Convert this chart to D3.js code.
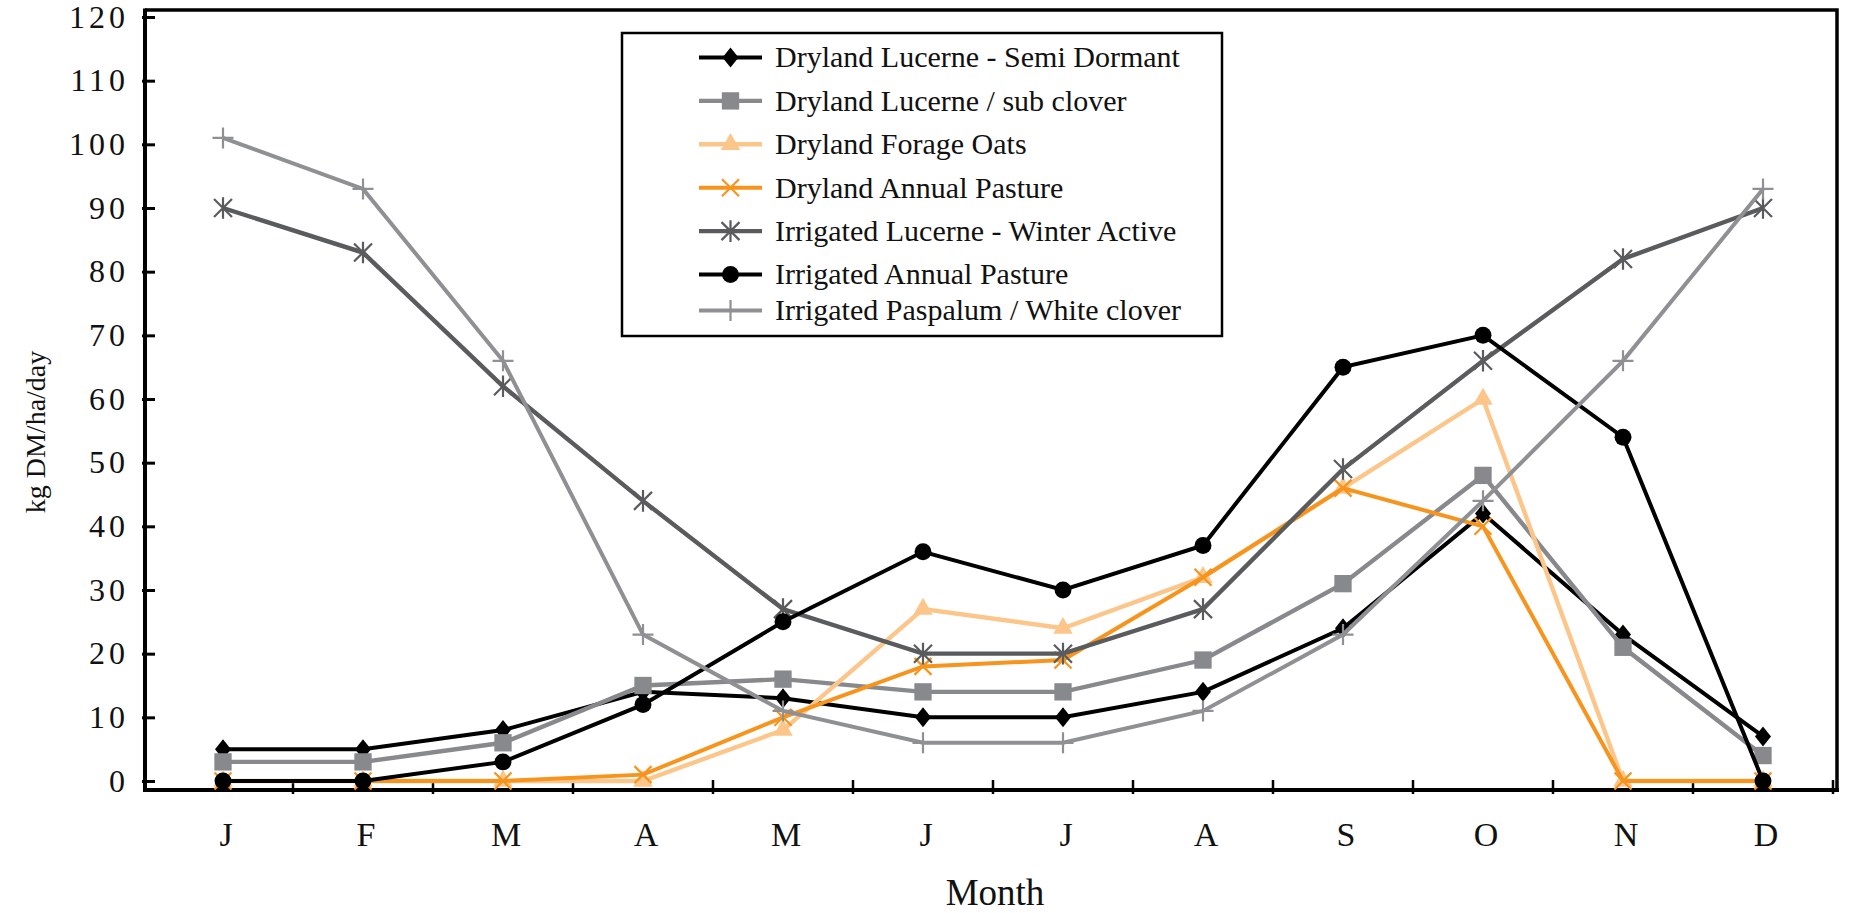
<!DOCTYPE html>
<html>
<head>
<meta charset="utf-8">
<script src="https://cdn.jsdelivr.net/npm/d3@7"></script>
<style>
  html, body { margin: 0; padding: 0; background: #fff; }
  svg { display: block; font-family: "Liberation Serif", "DejaVu Serif", serif; }
</style>
</head>
<body>
<div id="chart"></div>
<script>
// month labels along the bottom
const months = ["J", "F", "M", "A", "M", "J", "J", "A", "S", "O", "N", "D"];
const yTicks = [0, 10, 20, 30, 40, 50, 60, 70, 80, 90, 100, 110, 120];

// kg DM/ha/day per month
const drylandLucerneSemiDormant = [5, 5, 8, 14, 13, 10, 10, 14, 24, 42, 23, 7];
const drylandLucerneSubClover = [3, 3, 6, 15, 16, 14, 14, 19, 31, 48, 21, 4];
const drylandForageOats = [0, 0, 0, 0, 8, 27, 24, 32, 46, 60, 0, 0];
const drylandAnnualPasture = [0, 0, 0, 1, 10, 18, 19, 32, 46, 40, 0, 0];
const irrigatedLucerneWinterActive = [90, 83, 62, 44, 27, 20, 20, 27, 49, 66, 82, 90];
const irrigatedAnnualPasture = [0, 0, 3, 12, 25, 36, 30, 37, 65, 70, 54, 0];
const irrigatedPaspalumWhiteClover = [101, 93, 66, 23, 11, 6, 6, 11, 23, 44, 66, 93];

const seriesNames = [
  "Dryland Lucerne - Semi Dormant",
  "Dryland Lucerne / sub clover",
  "Dryland Forage Oats",
  "Dryland Annual Pasture",
  "Irrigated Lucerne - Winter Active",
  "Irrigated Annual Pasture",
  "Irrigated Paspalum / White clover"
];

// styling per series (kept apart from the values)
const series = [
  { name: seriesNames[0], values: drylandLucerneSemiDormant, color: "#000000", width: 4, marker: "diamond" },
  { name: seriesNames[1], values: drylandLucerneSubClover, color: "#88898d", width: 4.4, marker: "square" },
  { name: seriesNames[2], values: drylandForageOats, color: "#fcc58a", width: 4.4, marker: "triangle" },
  { name: seriesNames[3], values: drylandAnnualPasture, color: "#f7941d", width: 4, marker: "x" },
  { name: seriesNames[4], values: irrigatedLucerneWinterActive, color: "#5a5b5d", width: 4.4, marker: "asterisk" },
  { name: seriesNames[5], values: irrigatedAnnualPasture, color: "#000000", width: 4, marker: "circle" },
  { name: seriesNames[6], values: irrigatedPaspalumWhiteClover, color: "#8f9093", width: 4, marker: "plus" }
];

const W = 1850, H = 913;
const frame = { left: 145, right: 1837, top: 10, bottom: 790 };

const svg = d3.select("#chart").append("svg")
  .attr("width", W)
  .attr("height", H);

const x = d3.scaleBand()
  .domain(d3.range(months.length))
  .range([153, 1833])
  .padding(0);

const y = d3.scaleLinear()
  .domain([0, 120])
  .range([781, 17]);

const cx = i => x(i) + x.bandwidth() / 2;

// marker shapes
function markerPath(type) {
  const p = d3.path();
  if (type === "x") {
    const s = 8.5;
    p.moveTo(-s, -s); p.lineTo(s, s);
    p.moveTo(-s, s); p.lineTo(s, -s);
    return p.toString();
  }
  if (type === "asterisk") {
    const s = 9;
    p.moveTo(-s, -s); p.lineTo(s, s);
    p.moveTo(-s, s); p.lineTo(s, -s);
    p.moveTo(0, -s * 1.2); p.lineTo(0, s * 1.2);
    return p.toString();
  }
  if (type === "plus") {
    const s = 10.5;
    p.moveTo(-s, 0); p.lineTo(s, 0);
    p.moveTo(0, -s); p.lineTo(0, s);
    return p.toString();
  }
  if (type === "diamond") {
    p.moveTo(0, -10); p.lineTo(8, 0); p.lineTo(0, 10); p.lineTo(-8, 0); p.closePath();
    return p.toString();
  }
  if (type === "square") return d3.symbol(d3.symbolSquare, 300)();
  if (type === "triangle") return d3.symbol(d3.symbolTriangle, 165)();
  return d3.symbol(d3.symbolCircle, 225)();
}
const stroked = t => t === "x" || t === "asterisk" || t === "plus";

function drawMarker(g, s, px, py) {
  const m = g.append("path")
    .attr("d", markerPath(s.marker))
    .attr("transform", `translate(${px},${py})`);
  if (stroked(s.marker)) {
    m.attr("fill", "none").attr("stroke", s.color).attr("stroke-width", 2.2);
  } else {
    m.attr("fill", s.color).attr("stroke", "none");
  }
}

// frame (top + right)
svg.append("path")
  .attr("d", `M${frame.left},${frame.top}H${frame.right}V${frame.bottom}`)
  .attr("fill", "none")
  .attr("stroke", "#000")
  .attr("stroke-width", 3.5);

// y axis, ticks pointing inward
const yAxis = d3.axisLeft(y)
  .tickValues(yTicks)
  .tickSizeInner(-10)
  .tickSizeOuter(0)
  .tickPadding(16);
const gy = svg.append("g")
  .attr("transform", `translate(${frame.left},0)`)
  .call(yAxis);
gy.select(".domain").remove();
gy.selectAll(".tick line").attr("stroke", "#000").attr("stroke-width", 3).attr("x1", -3);
gy.selectAll(".tick text")
  .attr("font-family", "Liberation Serif")
  .attr("font-size", 32)
  .attr("letter-spacing", 4)
  .attr("fill", "#111");
svg.append("line")
  .attr("x1", frame.left).attr("x2", frame.left)
  .attr("y1", frame.top - 1.5).attr("y2", frame.bottom + 2)
  .attr("stroke", "#000").attr("stroke-width", 4);

// x axis: line below the zero line, tick marks between months
svg.append("line")
  .attr("x1", frame.left - 2).attr("x2", frame.right + 2)
  .attr("y1", frame.bottom).attr("y2", frame.bottom)
  .attr("stroke", "#000").attr("stroke-width", 4);
svg.append("g").selectAll("line")
  .data(d3.range(1, months.length + 1))
  .join("line")
  .attr("x1", i => x.range()[0] + i * x.bandwidth())
  .attr("x2", i => x.range()[0] + i * x.bandwidth())
  .attr("y1", frame.bottom - 10)
  .attr("y2", frame.bottom + 4)
  .attr("stroke", "#000")
  .attr("stroke-width", 2.5);
svg.append("g").selectAll("text")
  .data(months)
  .join("text")
  .attr("x", (d, i) => cx(i) + 3)
  .attr("y", 846)
  .attr("text-anchor", "middle")
  .attr("font-size", 34)
  .attr("fill", "#111")
  .text(d => d);

// axis titles
svg.append("text")
  .attr("x", 995).attr("y", 905)
  .attr("text-anchor", "middle")
  .attr("font-size", 37)
  .attr("fill", "#111")
  .text("Month");
svg.append("text")
  .attr("transform", "translate(45,432) rotate(-90)")
  .attr("text-anchor", "middle")
  .attr("font-size", 28)
  .attr("fill", "#111")
  .text("kg DM/ha/day");

// series lines and markers
const line = d3.line()
  .x((d, i) => cx(i))
  .y(d => y(d));

series.forEach(s => {
  const g = svg.append("g");
  g.append("path")
    .datum(s.values)
    .attr("d", line)
    .attr("fill", "none")
    .attr("stroke", s.color)
    .attr("stroke-width", s.width)
    .attr("stroke-linejoin", "miter");
  s.values.forEach((v, i) => drawMarker(g, s, cx(i), y(v)));
});

// legend
const legend = svg.append("g");
legend.append("rect")
  .attr("x", 622).attr("y", 33)
  .attr("width", 600).attr("height", 303)
  .attr("fill", "#fff")
  .attr("stroke", "#000")
  .attr("stroke-width", 2.5);
const rowY = i => (i < 6 ? 57.5 + i * 43.4 : 310.5);
series.forEach((s, i) => {
  const ry = rowY(i);
  const row = legend.append("g");
  row.append("line")
    .attr("x1", 699).attr("x2", 762)
    .attr("y1", ry).attr("y2", ry)
    .attr("stroke", s.color)
    .attr("stroke-width", s.width);
  drawMarker(row, s, 730.5, ry);
  row.append("text")
    .attr("x", 775).attr("y", ry)
    .attr("dy", "0.33em")
    .attr("font-size", 30)
    .attr("fill", "#111")
    .text(s.name);
});
</script>
</body>
</html>
